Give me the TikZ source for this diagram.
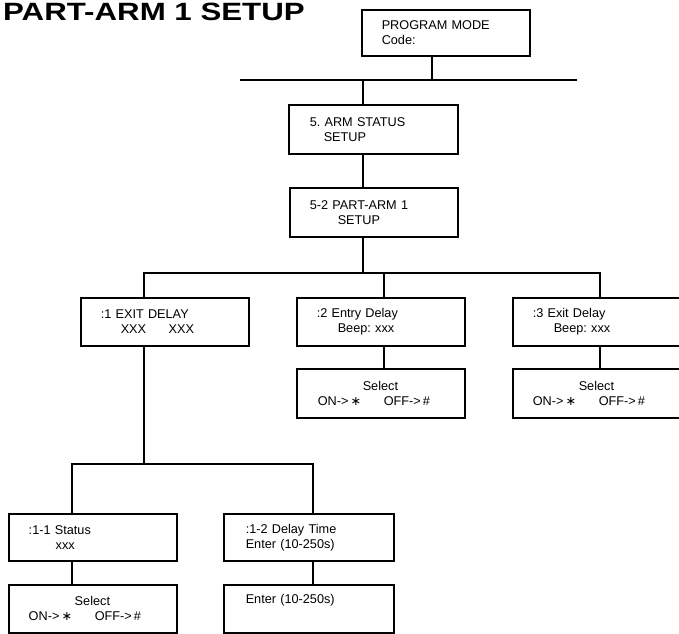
\documentclass[tikz,border=0pt]{standalone}
\usepackage{fontspec}
\setmainfont{Liberation Sans}
\newfontfamily\titlefont{Liberation Sans}[FakeStretch=1.25]
\newfontfamily\symfont{DejaVu Sans}
\usetikzlibrary{positioning, calc}
\newcommand{\onoff}{\makebox[66pt][l]{ON->\,{\symfont ∗}}OFF->\,\#}
\frenchspacing

\begin{document}
\begin{tikzpicture}[
    x=1pt, y=-1pt,
    box/.style={draw, line width=1.5pt, anchor=north west, inner xsep=0pt, inner ysep=0pt,
      text width=168pt, minimum height=48pt, align=left, font=\fontsize{12.7}{15}\selectfont},
    wide/.style={text width=170pt},
    title/.style={anchor=base west, inner sep=0pt, font=\titlefont\bfseries\fontsize{25}{30}\selectfont},
    wire/.style={line width=1.2pt}
  ]
    \useasboundingbox (0,0) rectangle (679,633);

    % Title
    \node[title] (title) at (3,20.7) {PART-ARM 1 SETUP};

    % Top level
    \node[box, minimum height=46pt] (prog) at (361,9) {\hspace*{20pt}PROGRAM MODE\\\hspace*{20pt}Code:};
    \node[box, text width=169pt, minimum height=49pt] (arm) at (288,104) {\hspace*{21pt}5. ARM STATUS\\\hspace*{35pt}SETUP};
    \node[box, minimum height=49pt] (part) at (289,187) {\hspace*{20pt}5-2 PART-ARM 1\\\hspace*{48pt}SETUP};

    % Second level
    \node[box] (exit) at (80,297) {\hspace*{20pt}:1 EXIT DELAY\\\hspace*{40pt}\makebox[48pt][l]{XXX}XXX};
    \node[box] (entry) at (296,297) {\hspace*{20pt}:2 Entry Delay\\\hspace*{41pt}Beep: xxx};
    \node[box] (exit3) at (512,297) {\hspace*{20pt}:3 Exit Delay\\\hspace*{41pt}Beep: xxx};
    \node[box, minimum height=49pt] (entrysel) at (296,368) {\hspace*{66pt}Select\\\hspace*{21pt}\onoff};
    \node[box, minimum height=49pt] (exit3sel) at (512,368) {\hspace*{66pt}Select\\\hspace*{20pt}\onoff};

    % Third level
    \node[box, minimum height=47pt] (status) at (8,513) {\hspace*{20pt}:1-1 Status\\\hspace*{47pt}xxx};
    \node[box, wide, minimum height=47pt] (delay) at (223,513) {\hspace*{22pt}:1-2 Delay Time\\\hspace*{22pt}Enter (10-250s)};
    \node[box] (statussel) at (8,584) {\hspace*{66pt}Select\\\hspace*{20pt}\onoff};
    \node[box, wide] (delayenter) at (223,584) {\hspace*{22pt}Enter (10-250s)\\\strut};

    % Junctions
    \coordinate (topL) at (240,80);
    \coordinate (topR) at (577,80);
    \coordinate (topJ) at (432,80);
    \coordinate (armIn) at (363,80);
    \coordinate (midJ) at (363,273);
    \coordinate (midL) at (144,273);
    \coordinate (midM) at (384,273);
    \coordinate (midR) at (600,273);
    \coordinate (lowJ) at (144,464);
    \coordinate (lowL) at (72,464);
    \coordinate (lowR) at (313,464);

    % Connections
    \draw[wire] (topL) -- (topR);
    \draw[wire] (prog.south -| topJ) -- (topJ);
    \draw[wire] (armIn) -- (armIn |- arm.north);
    \draw[wire] (armIn |- arm.south) -- (armIn |- part.north);
    \draw[wire] (midJ |- part.south) -- (midJ);
    \draw[wire] (midL |- exit.north) -- (midL) -- (midR) -- (midR |- exit3.north);
    \draw[wire] (midM) -- (midM |- entry.north);
    \draw[wire] (midM |- entry.south) -- (midM |- entrysel.north);
    \draw[wire] (midR |- exit3.south) -- (midR |- exit3sel.north);
    \draw[wire] (lowJ |- exit.south) -- (lowJ);
    \draw[wire] (lowL |- status.north) -- (lowL) -- (lowR) -- (lowR |- delay.north);
    \draw[wire] (lowL |- status.south) -- (lowL |- statussel.north);
    \draw[wire] (lowR |- delay.south) -- (lowR |- delayenter.north);
  \end{tikzpicture}
\end{document}
